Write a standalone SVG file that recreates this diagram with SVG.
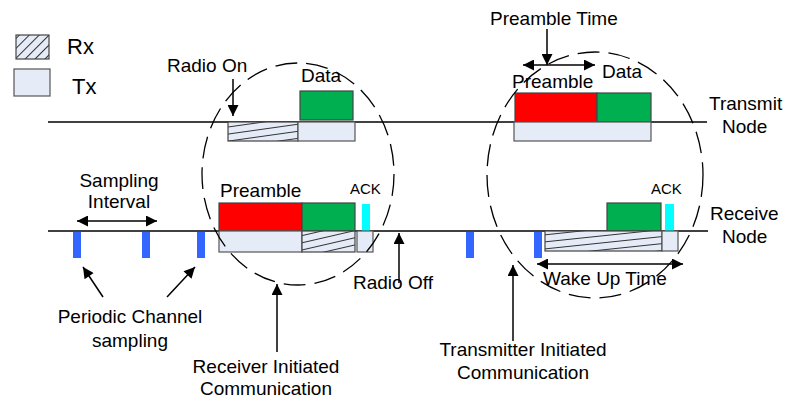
<svg xmlns="http://www.w3.org/2000/svg" width="792" height="399" viewBox="0 0 792 399">
  <style>
    text { font-family: "Liberation Sans", Arial, sans-serif; fill: #000; }
    .lbl { font-size: 19px; }
    .small { font-size: 15px; }
    .leg { font-size: 22px; }
    .tx { fill: #E6ECF7; stroke: #555; stroke-width: 1.2; }
    .box { stroke: #444; stroke-width: 1.2; }
    .red { fill: #FF0000; }
    .green { fill: #00B050; }
    .cyan { fill: #00FFFF; stroke: none; }
    .samp { fill: #3366FF; }
    .line { stroke: #000; stroke-width: 1.3; fill: none; }
    .arr { stroke: #000; stroke-width: 1.5; fill: none; }
    .ring { stroke: #000; stroke-width: 1.3; fill: none; stroke-dasharray: 22 9; }
  </style>
  <defs>
    <marker id="head" viewBox="0 0 10 10" refX="10" refY="5" markerWidth="14" markerHeight="11" markerUnits="userSpaceOnUse" orient="auto-start-reverse">
      <path d="M0,0 L10,5 L0,10 z" fill="#000"/>
    </marker>
    <pattern id="hatch45" patternUnits="userSpaceOnUse" width="7" height="7" patternTransform="rotate(-45)">
      <rect width="7" height="7" fill="#E6ECF7"/>
      <line x1="0" y1="3.5" x2="7" y2="3.5" stroke="#333" stroke-width="1"/>
    </pattern>
    <pattern id="hatch8" patternUnits="userSpaceOnUse" width="10" height="7" patternTransform="rotate(-8)">
      <rect width="10" height="7" fill="#E6ECF7"/>
      <line x1="0" y1="3.5" x2="10" y2="3.5" stroke="#333" stroke-width="1"/>
    </pattern>
    <pattern id="hatch13" patternUnits="userSpaceOnUse" width="10" height="7" patternTransform="rotate(-13)">
      <rect width="10" height="7" fill="#E6ECF7"/>
      <line x1="0" y1="3.5" x2="10" y2="3.5" stroke="#333" stroke-width="1"/>
    </pattern>
    <pattern id="hatch6" patternUnits="userSpaceOnUse" width="10" height="7" patternTransform="rotate(-6)">
      <rect width="10" height="7" fill="#E6ECF7"/>
      <line x1="0" y1="3.5" x2="10" y2="3.5" stroke="#333" stroke-width="1"/>
    </pattern>
  </defs>

  <!-- legend -->
  <g id="legend">
    <rect x="16" y="35" width="33" height="24" fill="url(#hatch45)" class="box"/>
    <text x="67" y="54" class="leg">Rx</text>
    <rect x="14" y="69" width="36" height="27" class="tx"/>
    <text x="72" y="94" class="leg">Tx</text>
  </g>

  <!-- time axes -->
  <g id="axes">
    <line x1="48" y1="122" x2="707" y2="122" class="line"/>
    <line x1="48" y1="231" x2="708" y2="231" class="line"/>
  </g>

  <g id="transmit-node-label">
    <text x="709" y="110" class="lbl">Transmit</text>
    <text x="722" y="133" class="lbl">Node</text>
  </g>
  <g id="receive-node-label">
    <text x="710" y="220" class="lbl">Receive</text>
    <text x="722" y="243" class="lbl">Node</text>
  </g>

  <!-- receiver initiated exchange -->
  <g id="rx-init-transmit">
    <rect x="228" y="122" width="70" height="19" fill="url(#hatch8)" class="box"/>
    <rect x="298" y="122" width="57" height="19" class="tx"/>
    <rect x="300" y="91" width="53" height="29" class="green box"/>
    <text x="301" y="82" class="lbl">Data</text>
  </g>
  <g id="rx-init-receive">
    <rect x="219" y="203" width="83" height="28" class="red box"/>
    <rect x="302" y="203" width="53" height="28" class="green box"/>
    <rect x="362" y="204" width="8" height="27" class="cyan"/>
    <rect x="219" y="231" width="83" height="21" class="tx"/>
    <rect x="302" y="231" width="53" height="21" fill="url(#hatch13)" class="box"/>
    <rect x="357" y="231" width="16" height="21" class="tx"/>
    <text x="220" y="197" class="lbl">Preamble</text>
    <text x="350" y="194" class="small">ACK</text>
  </g>

  <!-- transmitter initiated exchange -->
  <g id="tx-init-transmit">
    <rect x="515" y="93" width="82" height="29" class="red box"/>
    <rect x="597" y="93" width="54" height="29" class="green box"/>
    <rect x="514" y="122" width="137" height="19" class="tx"/>
    <text x="512" y="88" class="lbl">Preamble</text>
    <text x="602" y="78" class="lbl">Data</text>
  </g>
  <g id="tx-init-receive">
    <rect x="607" y="203" width="54" height="28" class="green box"/>
    <rect x="665" y="204" width="9" height="27" class="cyan"/>
    <rect x="545" y="231" width="117" height="20" fill="url(#hatch6)" class="box"/>
    <rect x="662" y="231" width="16" height="20" class="tx"/>
    <text x="651" y="194" class="small">ACK</text>
  </g>

  <!-- periodic channel samples -->
  <g id="samples">
    <rect x="73" y="232" width="8" height="26" class="samp"/>
    <rect x="142" y="232" width="8" height="26" class="samp"/>
    <rect x="197" y="232" width="8" height="26" class="samp"/>
    <rect x="466" y="232" width="8" height="26" class="samp"/>
    <rect x="534" y="232" width="8" height="26" class="samp"/>
  </g>

  <!-- communication regions -->
  <g id="regions">
    <ellipse cx="298" cy="174" rx="96" ry="111" class="ring"/>
    <ellipse cx="595" cy="175" rx="108" ry="123" class="ring"/>
  </g>

  <!-- annotations -->
  <g id="label-radio-on"><text x="167" y="72" class="lbl">Radio On</text></g>
  <g id="label-preamble-time"><text x="490" y="25" class="lbl">Preamble Time</text></g>
  <g id="label-sampling-interval">
    <text x="119" y="187" class="lbl" text-anchor="middle">Sampling</text>
    <text x="119" y="208" class="lbl" text-anchor="middle">Interval</text>
  </g>
  <g id="label-periodic">
    <text x="130" y="323" class="lbl" text-anchor="middle">Periodic Channel</text>
    <text x="130" y="347" class="lbl" text-anchor="middle">sampling</text>
  </g>
  <g id="label-receiver-init">
    <text x="266" y="373" class="lbl" text-anchor="middle">Receiver Initiated</text>
    <text x="266" y="395" class="lbl" text-anchor="middle">Communication</text>
  </g>
  <g id="label-radio-off"><text x="353" y="289" class="lbl">Radio Off</text></g>
  <g id="label-transmitter-init">
    <text x="523" y="356" class="lbl" text-anchor="middle">Transmitter Initiated</text>
    <text x="523" y="379" class="lbl" text-anchor="middle">Communication</text>
  </g>
  <g id="label-wake-up"><text x="543" y="285" class="lbl">Wake Up Time</text></g>

  <!-- connectors -->
  <g id="connectors">
    <line x1="233" y1="79" x2="233" y2="116" class="arr" marker-end="url(#head)"/>
    <line x1="547" y1="29" x2="547" y2="65" class="arr" marker-end="url(#head)"/>
    <line x1="523" y1="65" x2="595" y2="65" class="arr" marker-start="url(#head)" marker-end="url(#head)"/>
    <line x1="77" y1="221" x2="157" y2="221" class="arr" marker-start="url(#head)" marker-end="url(#head)"/>
    <line x1="103" y1="297" x2="83" y2="267" class="arr" marker-end="url(#head)"/>
    <line x1="167" y1="297" x2="195" y2="267" class="arr" marker-end="url(#head)"/>
    <line x1="277" y1="352" x2="277" y2="284" class="arr" marker-end="url(#head)"/>
    <line x1="399" y1="283" x2="399" y2="233" class="arr" marker-end="url(#head)"/>
    <line x1="513" y1="341" x2="513" y2="265" class="arr" marker-end="url(#head)"/>
    <line x1="537" y1="264" x2="683" y2="264" class="arr" marker-start="url(#head)" marker-end="url(#head)"/>
  </g>
</svg>
